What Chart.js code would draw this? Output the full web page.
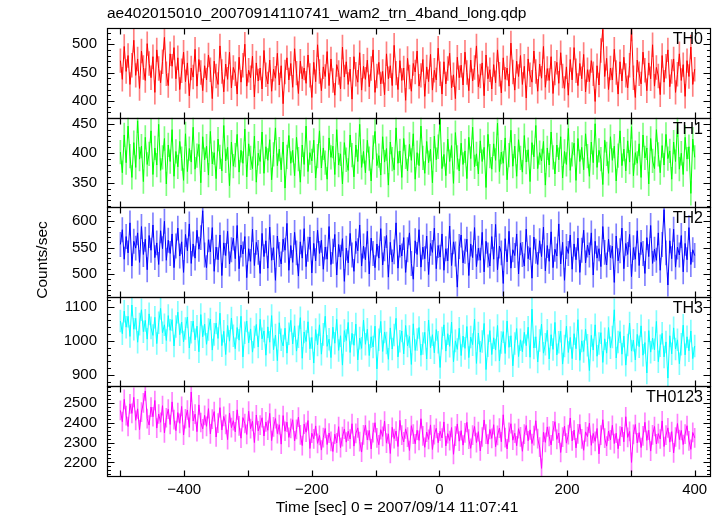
<!DOCTYPE html>
<html>
<head>
<meta charset="utf-8">
<script src="https://cdn.jsdelivr.net/npm/chart.js@4.4.1/dist/chart.umd.min.js"></script>
<style>
body { margin: 0; background: #fff; }
canvas { display: block; }
</style>
</head>
<body>
<canvas id="c" width="720" height="516"></canvas>
<script>
// light curve, 3 s bins starting at -500 s
const binStart = -500
const binSec = 3

const th0 = [
  471, 438, 496, 452, 480, 429, 463, 507, 445, 474, 422, 488, 459, 436, 501,
  466, 441, 478, 415, 490, 457, 432, 469, 512, 448, 427, 483, 461, 494, 439,
  476, 420, 453, 486, 434, 467, 409, 458, 442, 491, 426, 473, 450, 418, 462,
  437, 481, 455, 404, 470, 444, 429, 497, 452, 416, 465, 438, 486, 423, 459,
  448, 412, 477, 433, 463, 500, 426, 454, 441, 479, 407, 467, 435, 458, 421,
  489, 446, 430, 472, 417, 456, 440, 484, 428, 462, 395, 451, 476, 437, 466,
  424, 492, 449, 413, 470, 439, 458, 431, 481, 445, 406, 468, 434, 499, 452,
  418, 460, 443, 487, 427, 474, 436, 410, 464, 450, 421, 495, 442, 469, 429,
  456, 403, 478, 447, 433, 485, 419, 461, 438, 472, 425, 457, 490, 415, 444,
  468, 430, 452, 411, 483, 439, 462, 427, 498, 449, 420, 471, 436, 458, 401,
  475, 442, 417, 466, 451, 488, 426, 445, 473, 408, 460, 434, 482, 419, 454,
  437, 493, 448, 412, 469, 430, 457, 484, 423, 446, 404, 477, 441, 463, 428,
  486, 450, 418, 472, 435, 459, 497, 425, 444, 467, 409, 481, 439, 455, 421,
  464, 432, 490, 447, 414, 476, 438, 458, 426, 502, 451, 419, 470, 443, 480,
  429, 461, 405, 474, 446, 433, 488, 452, 417, 465, 440, 496, 424, 457, 436,
  478, 413, 449, 468, 431, 485, 444, 422, 460, 410, 473, 437, 494, 453, 427,
  466, 439, 482, 416, 455, 434, 471, 448, 399, 462, 428, 489, 526, 443, 475,
  420, 458, 437, 491, 450, 412, 469, 435, 477, 445, 423, 463, 527, 441, 406,
  472, 448, 430, 486, 454, 418, 467, 439, 499, 426, 459, 444, 411, 480, 433,
  461, 490, 425, 452, 474, 415, 447, 483, 436, 464, 408, 471, 443, 495, 429,
  456
]

const th1 = [
  402, 367, 431, 384, 446, 395, 359, 418, 376, 455, 390, 412, 352, 427, 381,
  399, 438, 364, 409, 380, 449, 371, 393, 425, 348, 414, 386, 440, 361, 403,
  377, 420, 391, 354, 433, 369, 408, 385, 444, 373, 396, 415, 350, 428, 389,
  412, 363, 437, 382, 401, 357, 424, 394, 370, 447, 387, 410, 345, 419, 378,
  397, 432, 368, 405, 383, 441, 360, 416, 392, 374, 429, 351, 400, 386, 436,
  366, 411, 388, 423, 355, 398, 443, 379, 407, 372, 419, 341, 394, 430, 383,
  405, 362, 427, 390, 351, 414, 381, 446, 369, 401, 387, 422, 358, 395, 438,
  375, 409, 384, 356, 426, 393, 412, 364, 440, 380, 399, 348, 418, 389, 371,
  431, 397, 360, 414, 386, 449, 376, 403, 367, 422, 391, 353, 410, 437, 379,
  396, 363, 428, 385, 408, 346, 419, 390, 372, 443, 383, 404, 359, 425, 394,
  370, 415, 388, 433, 356, 401, 379, 446, 392, 366, 420, 384, 407, 350, 429,
  389, 411, 458, 374, 398, 362, 424, 386, 413, 349, 435, 393, 370, 417, 381,
  404, 357, 427, 391, 444, 377, 399, 365, 421, 386, 410, 342, 432, 395, 373,
  416, 388, 451, 369, 402, 383, 426, 355, 397, 439, 378, 412, 361, 423, 392,
  368, 430, 385, 406, 352, 418, 394, 447, 374, 401, 387, 420, 346, 409, 380,
  436, 393, 365, 414, 389, 428, 358, 403, 381, 442, 371, 398, 417, 354, 425,
  386, 410, 372, 433, 395, 361, 419, 384, 450, 376, 405, 390, 347, 422, 399,
  366, 428, 388, 412, 353, 396, 438, 379, 407, 370, 421, 385, 445, 362, 401,
  383, 416, 359, 431, 392, 409, 348, 425, 387, 374, 440, 398, 367, 413, 380,
  432, 391, 404, 356, 419, 386, 448, 373, 400, 364, 427, 390, 411, 332, 424,
  393
]

const th2 = [
  556, 584, 528, 571, 540, 597, 515, 562, 549, 578, 522, 590, 537, 566, 508,
  573, 545, 593, 531, 559, 518, 582, 548, 600, 526, 564, 539, 576, 512, 553,
  587, 534, 561, 503, 575, 544, 595, 520, 557, 530, 583, 547, 569, 620, 536,
  512, 565, 542, 588, 505, 551, 527, 574, 497, 559, 535, 581, 519, 546, 568,
  529, 592, 510, 555, 538, 571, 493, 548, 524, 585, 516, 560, 541, 501, 577,
  533, 563, 511, 589, 526, 550, 488, 572, 537, 519, 566, 545, 596, 507, 554,
  522, 579, 540, 496, 561, 530, 586, 514, 547, 570, 502, 558, 525, 583, 539,
  564, 509, 551, 528, 590, 518, 543, 575, 498, 556, 532, 567, 486, 549, 521,
  577, 536, 505, 562, 544, 593, 515, 553, 527, 581, 500, 568, 539, 512, 557,
  530, 586, 517, 548, 573, 494, 560, 523, 542, 597, 511, 555, 534, 569, 503,
  546, 578, 520, 490, 563, 537, 584, 513, 551, 529, 572, 499, 558, 541, 587,
  510, 554, 532, 576, 507, 548, 525, 591, 516, 561, 538, 475, 552, 574, 521,
  543, 566, 497, 557, 531, 588, 514, 549, 526, 579, 504, 562, 536, 515, 571,
  528, 594, 508, 553, 540, 482, 567, 523, 581, 511, 546, 535, 576, 500, 559,
  537, 515, 585, 529, 550, 492, 570, 543, 518, 563, 533, 589, 506, 554, 524,
  580, 512, 547, 534, 595, 519, 560, 488, 552, 539, 574, 509, 557, 527, 568,
  503, 545, 583, 521, 555, 536, 578, 498, 562, 530, 548, 514, 590, 541, 517,
  566, 531, 553, 484, 572, 525, 544, 587, 510, 558, 537, 575, 495, 550, 528,
  582, 516, 560, 539, 501, 569, 533, 592, 520, 547, 526, 578, 507, 556, 622,
  540, 479, 563, 529, 585, 513, 551, 536, 573, 504, 558, 527, 588, 518, 546,
  535
]

const th3 = [
  1058, 1021, 1087, 1040, 1072, 1013, 1105, 1034, 1066, 996, 1049, 1091, 1027, 1060, 1005,
  1079, 1038, 1016, 1069, 992, 1053, 1095, 1024, 1047, 1001, 1074, 1031, 1062, 985, 1042,
  1084, 1018, 1055, 997, 1036, 1070, 979, 1025, 1058, 1003, 1043, 968, 1077, 1012, 1049,
  990, 1033, 1064, 973, 1019, 1052, 1007, 1081, 986, 1028, 960, 1045, 999, 1067, 1015,
  977, 1039, 1002, 1072, 953, 1024, 1058, 994, 1035, 967, 1011, 1048, 982, 1063, 1006,
  1029, 958, 1041, 996, 1074, 974, 1017, 942, 1053, 1003, 985, 1037, 964, 1021, 1060,
  991, 1044, 970, 1012, 1068, 949, 1026, 998, 1056, 977, 1010, 935, 1033, 988, 1047,
  961, 1019, 1072, 984, 1005, 951, 1040, 993, 1063, 972, 1015, 929, 1030, 1001, 1054,
  966, 1022, 987, 1049, 944, 1008, 978, 1061, 990, 1034, 957, 1012, 982, 1043, 918,
  1003, 1057, 969, 1026, 994, 946, 1038, 976, 1017, 1066, 953, 999, 1029, 962, 1045,
  985, 1013, 931, 1050, 972, 1004, 1039, 958, 992, 1025, 947, 1061, 980, 1018, 965,
  1033, 996, 922, 1008, 1047, 970, 1021, 984, 1055, 939, 1000, 975, 1037, 957, 1014,
  978, 1042, 951, 1011, 989, 1064, 934, 1023, 967, 998, 1051, 916, 986, 1030, 960,
  1009, 973, 1045, 941, 995, 1027, 963, 1058, 981, 1015, 927, 992, 1036, 954, 1003,
  968, 1025, 986, 1040, 952, 1093, 979, 1012, 938, 1001, 1049, 964, 990, 1031, 947,
  1018, 975, 1054, 959, 996, 1028, 932, 985, 1043, 966, 1010, 948, 1021, 977, 1062,
  943, 1000, 969, 1034, 987, 913, 1016, 973, 1047, 955, 992, 1024, 937, 1006, 964,
  1039, 980, 1011, 1091, 950, 997, 1027, 961, 1014, 929, 988, 1052, 970, 1002, 944,
  1019, 983, 1044, 958, 995, 906, 1030, 967, 1008, 974, 1057, 939, 986, 1022, 953,
  997, 891, 1015, 962, 1038, 976, 1003, 933, 990, 1046, 959, 1012, 971, 1029, 948,
  985
]

const th0123 = [
  2462, 2405, 2518, 2436, 2381, 2495, 2447, 2528, 2412, 2470, 2365, 2453, 2500, 2560, 2421,
  2388, 2479, 2430, 2512, 2373, 2444, 2402, 2486, 2349, 2425, 2468, 2391, 2505, 2416, 2360,
  2451, 2397, 2482, 2338, 2420, 2464, 2376, 2555, 2409, 2443, 2355, 2490, 2401, 2369, 2437,
  2382, 2471, 2344, 2418, 2456, 2328, 2398, 2476, 2363, 2432, 2392, 2315, 2449, 2375, 2410,
  2354, 2465, 2384, 2322, 2426, 2396, 2341, 2458, 2370, 2407, 2300, 2439, 2359, 2388, 2425,
  2333, 2404, 2362, 2447, 2310, 2379, 2421, 2345, 2390, 2292, 2436, 2357, 2403, 2326, 2372,
  2415, 2308, 2366, 2428, 2339, 2285, 2393, 2352, 2411, 2270, 2347, 2319, 2384, 2296, 2336,
  2262, 2325, 2371, 2290, 2348, 2306, 2255, 2342, 2298, 2380, 2274, 2330, 2368, 2302, 2357,
  2318, 2395, 2282, 2346, 2374, 2305, 2252, 2339, 2387, 2313, 2361, 2268, 2350, 2400, 2324,
  2289, 2365, 2331, 2408, 2297, 2344, 2245, 2377, 2320, 2358, 2280, 2412, 2337, 2303, 2369,
  2327, 2260, 2385, 2343, 2294, 2362, 2311, 2420, 2334, 2276, 2353, 2316, 2389, 2265, 2340,
  2372, 2299, 2357, 2323, 2404, 2283, 2345, 2310, 2376, 2241, 2332, 2394, 2307, 2360, 2287,
  2349, 2402, 2317, 2271, 2338, 2381, 2300, 2355, 2258, 2328, 2414, 2343, 2292, 2366, 2321,
  2390, 2279, 2336, 2373, 2304, 2440, 2325, 2268, 2351, 2395, 2312, 2347, 2284, 2370, 2329,
  2256, 2342, 2386, 2309, 2364, 2295, 2335, 2410, 2320, 2277, 2170, 2352, 2301, 2379, 2331,
  2288, 2359, 2405, 2316, 2348, 2250, 2327, 2383, 2297, 2340, 2424, 2308, 2363, 2273, 2344,
  2392, 2319, 2261, 2354, 2330, 2398, 2286, 2346, 2306, 2371, 2243, 2338, 2415, 2322, 2282,
  2358, 2314, 2387, 2295, 2347, 2269, 2332, 2378, 2304, 2430, 2326, 2356, 2200, 2341, 2391,
  2298, 2350, 2275, 2334, 2402, 2311, 2362, 2257, 2339, 2381, 2293, 2345, 2318, 2409, 2280,
  2337, 2374, 2302, 2355, 2248, 2328, 2396, 2315, 2361, 2290, 2343, 2385, 2309, 2266, 2351,
  2324
]

const panelNames = ['TH0', 'TH1', 'TH2', 'TH3', 'TH0123']
const panelValues = [th0, th1, th2, th3, th0123]
const panelErr = [21, 20, 23, 32, 48]
const panelColors = ['#ff0000', '#00ff00', '#0000ff', '#00ffff', '#ff00ff']
const errColors = ['rgba(255,0,0,0.5)', 'rgba(0,255,0,0.5)', 'rgba(0,0,255,0.5)', 'rgba(0,255,255,0.5)', 'rgba(255,0,255,0.5)']
const yMin = [370.5, 308.6, 456.7, 866.7, 2131.5]
const yMax = [528.6, 460.4, 626.7, 1129, 2583]
const yStep = [50, 50, 50, 100, 100]
const yMinor = [10, 10, 10, 20, 20]

const font = '"Liberation Sans", Arial, sans-serif'

// tick values between min and max on a given step
function stepValues(min, max, step) {
    let out = []
    for (let v = Math.ceil(min / step) * step; v <= max; v += step) out.push(v)
    return out
}

let datasets = []
let scales = {
    x: {
        type: 'linear',
        min: -521,
        max: 424,
        offset: false,
        grid: { display: false, drawTicks: false },
        border: { display: false },
        ticks: {
            autoSkip: false,
            maxRotation: 0,
            padding: 5,
            color: '#000',
            font: { family: font, size: 15 },
            callback: v => v % 200 === 0 ? String(v).replace('-', '\u2212') : ''
        },
        afterBuildTicks: s => { s.ticks = stepValues(-521, 424, 100).map(v => ({ value: v })) },
        afterFit: s => { s.height = 40 }
    }
}

panelNames.forEach((name, p) => {
    const id = 'y' + p
    datasets.push({
        type: 'line',
        label: name,
        data: panelValues[p].map((v, i) => ({ x: binStart + i * binSec, y: v })),
        yAxisID: id,
        borderColor: panelColors[p],
        borderWidth: 1,
        pointRadius: 0,
        tension: 0,
        order: 1
    })
    datasets.push({
        type: 'bar',
        label: name + ' err',
        data: panelValues[p].map((v, i) => ({ x: binStart + i * binSec, y: [v - panelErr[p], v + panelErr[p]] })),
        yAxisID: id,
        backgroundColor: errColors[p],
        barThickness: 1,
        grouped: false,
        order: 2
    })
    scales[id] = {
        type: 'linear',
        position: 'left',
        stack: 'panels',
        stackWeight: 1,
        weight: 5 - p,
        min: yMin[p],
        max: yMax[p],
        offset: false,
        grid: { display: false, drawTicks: false },
        border: { display: false },
        ticks: {
            autoSkip: false,
            padding: 10,
            color: '#000',
            font: { family: font, size: 15 },
            callback: v => String(v)
        },
        afterBuildTicks: s => { s.ticks = stepValues(yMin[p], yMax[p], yStep[p]).map(v => ({ value: v })) },
        afterFit: s => { s.width = 107 }
    }
})

const panelClip = {
    id: 'panelClip',
    beforeDatasetDraw(chart, args) {
        const ys = args.meta.yScale
        const a = chart.chartArea
        const ctx = chart.ctx
        ctx.save()
        ctx.beginPath()
        ctx.rect(a.left, ys.top, a.right - a.left, ys.bottom - ys.top)
        ctx.clip()
    },
    afterDatasetDraw(chart) {
        chart.ctx.restore()
    }
}

const frame = {
    id: 'frame',
    afterDraw(chart) {
        const ctx = chart.ctx
        const a = chart.chartArea
        const xs = chart.scales.x
        const left = Math.round(a.left) + 0.5
        const right = Math.round(a.right) + 0.5
        ctx.save()
        ctx.strokeStyle = '#000'
        ctx.fillStyle = '#000'
        ctx.lineWidth = 1.2
        panelNames.forEach((name, p) => {
            const ys = chart.scales['y' + p]
            const top = Math.round(ys.top) + 0.5
            const bot = Math.round(ys.bottom) + 0.5
            ctx.strokeRect(left, top, right - left, bot - top)
            ctx.beginPath()
            xs.ticks.forEach(t => {
                const px = Math.round(xs.getPixelForValue(t.value)) + 0.5
                ctx.moveTo(px, top); ctx.lineTo(px, top + 6)
                ctx.moveTo(px, bot); ctx.lineTo(px, bot - 6)
            })
            stepValues(yMin[p], yMax[p], yMinor[p]).forEach(v => {
                const py = Math.round(ys.getPixelForValue(v)) + 0.5
                const len = v % yStep[p] === 0 ? 7 : 3.5
                ctx.moveTo(left, py); ctx.lineTo(left + len, py)
                ctx.moveTo(right, py); ctx.lineTo(right - len, py)
            })
            ctx.stroke()
            ctx.font = '16px ' + font
            ctx.textAlign = 'right'
            ctx.textBaseline = 'alphabetic'
            ctx.fillText(name, a.right - 7, ys.top + 16)
        })

        ctx.font = '15.5px ' + font
        ctx.textAlign = 'left'
        ctx.fillText('ae402015010_20070914110741_wam2_trn_4band_long.qdp', 107, 18)
        ctx.textAlign = 'center'
        ctx.fillText('Time [sec] 0 = 2007/09/14 11:07:41', 397, 512)
        ctx.translate(47, 260)
        ctx.rotate(-Math.PI / 2)
        ctx.fillText('Counts/sec', 0, 0)
        ctx.restore()
    }
}

new Chart(document.getElementById('c'), {
    type: 'line',
    data: { datasets: datasets },
    options: {
        responsive: false,
        animation: false,
        events: [],
        layout: { padding: { top: 28, right: 10, left: 0, bottom: 0 } },
        plugins: {
            legend: { display: false },
            tooltip: { enabled: false }
        },
        scales: scales
    },
    plugins: [panelClip, frame]
})
</script>
</body>
</html>
